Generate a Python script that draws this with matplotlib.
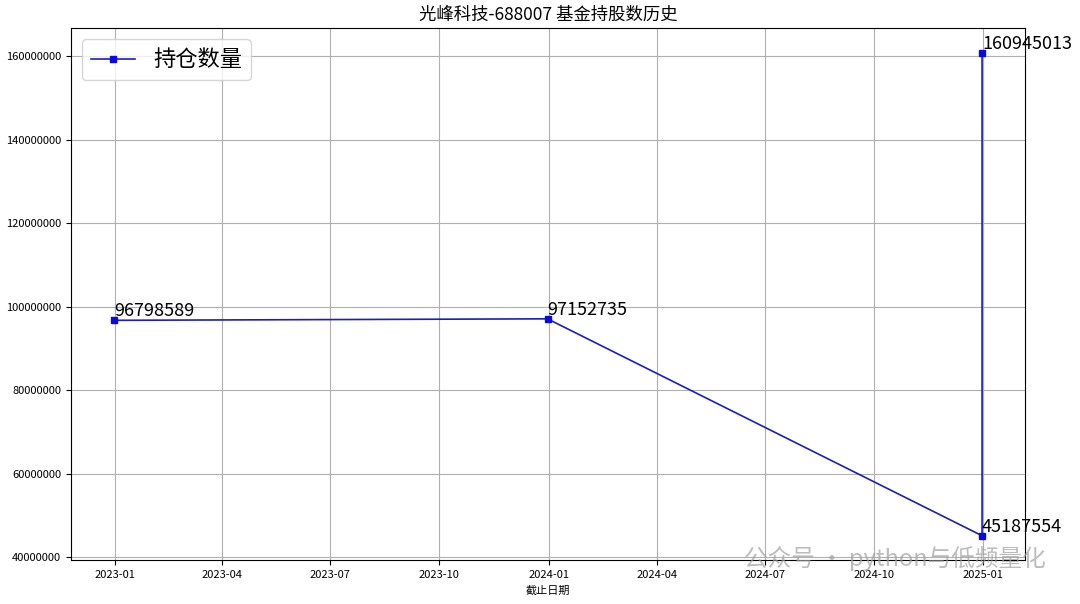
import matplotlib
matplotlib.use("Agg")
import matplotlib.pyplot as plt
import matplotlib.dates as mdates
import pandas as pd

plt.rcParams['font.family'] = ['Noto Sans CJK SC', 'DejaVu Sans']
plt.rcParams['axes.unicode_minus'] = False

dates = ['2022-12-31', '2023-12-31', '2024-12-31', '2024-12-31']
holdings = [96798589, 97152735, 45187554, 160945013]
title = '光峰科技-688007 基金持股数历史'
series_name = '持仓数量'
xlabel = '截止日期'

x = pd.to_datetime(dates)

fig = plt.figure(figsize=(10.8, 6.04), dpi=100)
ax = fig.add_axes([0.0655, 0.073, 0.884, 0.88])
ax.plot(x, holdings, color='#1c1cc0', marker='s', markersize=5,
        markerfacecolor='#0a0ae0', markeredgecolor='#0a0ae0', linewidth=1.2, label=series_name)
for xi, yi in zip(x, holdings):
    ax.text(xi, yi, str(yi), fontsize=13, ha='left', va='bottom', color='black')

ax.set_title(title, fontsize=12.5)
ax.set_xlabel(xlabel, fontsize=8)
ax.grid(True, color='#b0b0b0', linewidth=0.8)
ax.xaxis.set_major_locator(mdates.MonthLocator(bymonth=[1, 4, 7, 10]))
ax.xaxis.set_major_formatter(mdates.DateFormatter('%Y-%m'))
ax.ticklabel_format(axis='y', style='plain', useOffset=False)
ax.tick_params(labelsize=8)
ax.legend(loc='upper left', fontsize=16)

fig.text(0.968, 0.076, '公众号 · python与低频量化', fontsize=17, color='#a0a0a0',
         alpha=0.7, ha='right', va='center')

fig.savefig('out.png', dpi=100)
